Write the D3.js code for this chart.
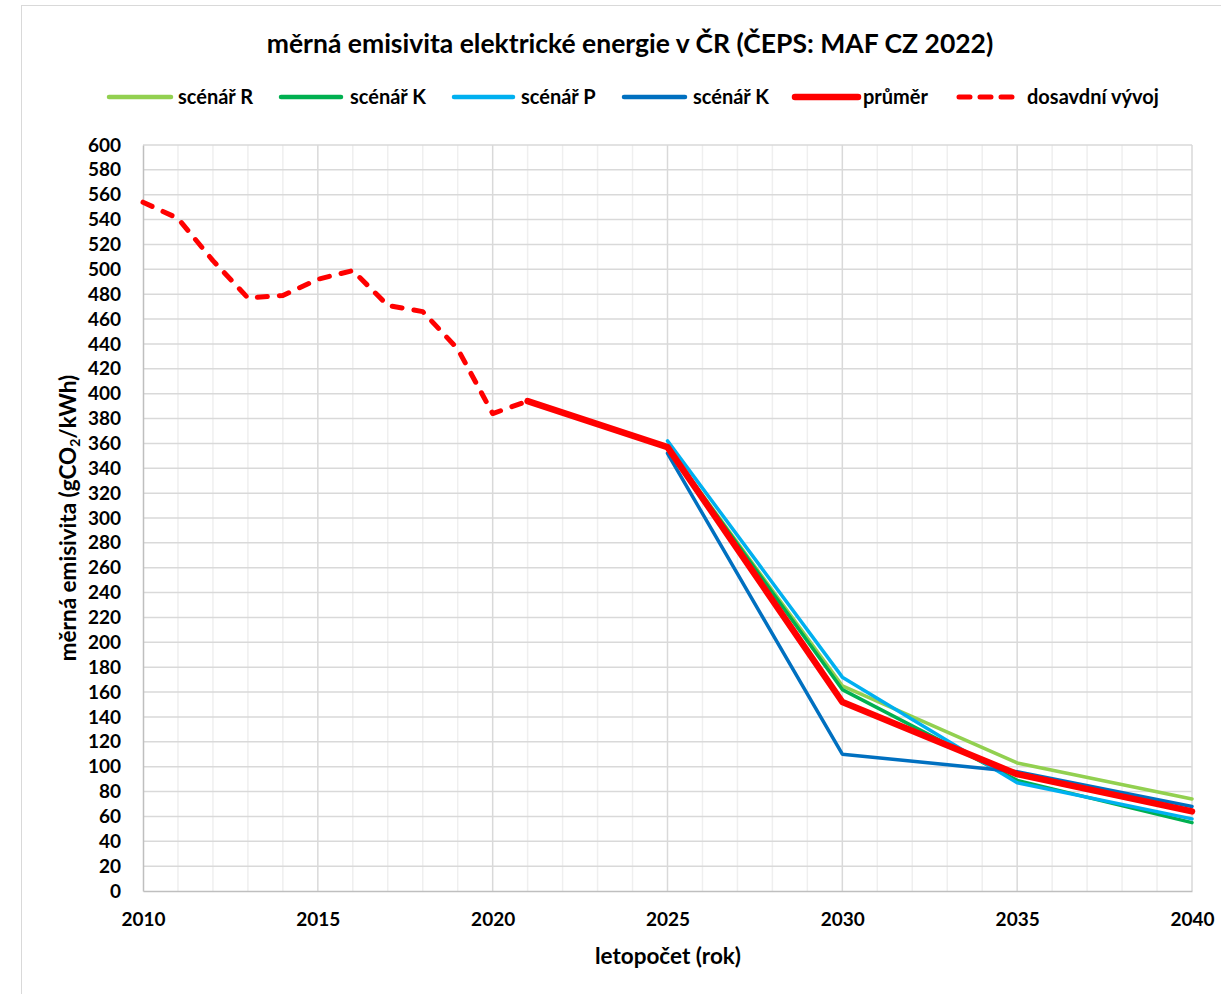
<!DOCTYPE html>
<html>
<head>
<meta charset="utf-8">
<script src="https://cdn.jsdelivr.net/npm/d3@7"></script>
<style>
  body { margin: 0; background: #fff; }
  text { font-family: Lato, "Open Sans", sans-serif; font-weight: bold; fill: #000; }
</style>
</head>
<body>
<svg id="chart" width="1221" height="994"></svg>
<script>
// historical values 2010-2021
const histYears = [2010, 2011, 2012, 2013, 2014, 2015, 2016, 2017, 2018, 2019, 2020, 2021];
const histValues = [554, 541, 507, 477, 479, 492, 499, 471, 466, 436, 384, 394];

// scenario years
const scenYears = [2025, 2030, 2035, 2040];
const scenR = [357, 165, 103, 74];
const scenK = [357, 162, 89, 55];
const scenP = [362, 172, 87, 58];
const scenK2 = [352, 110, 96, 68];
const avgYears = [2021, 2025, 2030, 2035, 2040];
const avgValues = [394, 357, 152, 94, 64];

const yTicks = d3.range(0, 601, 20);
const xTicks = [2010, 2015, 2020, 2025, 2030, 2035, 2040];

const series = [
  { name: "scénář R", years: scenYears, values: scenR, color: "#92d050", width: 3.5 },
  { name: "scénář K", years: scenYears, values: scenK, color: "#00b050", width: 3.5 },
  { name: "scénář P", years: scenYears, values: scenP, color: "#00b0f0", width: 3.5 },
  { name: "scénář K", years: scenYears, values: scenK2, color: "#0070c0", width: 3.5 },
  { name: "průměr", years: avgYears, values: avgValues, color: "#ff0000", width: 6.5 },
  { name: "dosavdní vývoj", years: histYears, values: histValues, color: "#ff0000", width: 5, dash: "10,12" }
];

const svg = d3.select("#chart");

// outer frame
svg.append("rect")
  .attr("x", 21.5).attr("y", 5.5)
  .attr("width", 1220).attr("height", 1000)
  .attr("fill", "none").attr("stroke", "#d9d9d9");

const pLeft = 143, pRight = 1192, pTop = 145, pBottom = 891;
const x = d3.scaleLinear().domain([2010, 2040]).range([pLeft, pRight]);
const y = d3.scaleLinear().domain([0, 600]).range([pBottom, pTop]);

// grid
const grid = svg.append("g");
grid.selectAll(".minor")
  .data(d3.range(2011, 2040).filter(d => d % 5 !== 0))
  .enter().append("line")
  .attr("x1", d => x(d)).attr("x2", d => x(d))
  .attr("y1", pTop).attr("y2", pBottom)
  .attr("stroke", "#efefef").attr("stroke-width", 1.5);
grid.selectAll(".hline")
  .data(yTicks.filter(d => d > 0))
  .enter().append("line")
  .attr("x1", pLeft).attr("x2", pRight)
  .attr("y1", d => y(d)).attr("y2", d => y(d))
  .attr("stroke", "#d9d9d9").attr("stroke-width", 1.5);
grid.selectAll(".major")
  .data(xTicks.filter(d => d > 2010))
  .enter().append("line")
  .attr("x1", d => x(d)).attr("x2", d => x(d))
  .attr("y1", pTop).attr("y2", pBottom)
  .attr("stroke", "#d9d9d9").attr("stroke-width", 1.5);

// axes
const yAxis = svg.append("g")
  .attr("transform", `translate(${pLeft},0)`)
  .call(d3.axisLeft(y).tickValues(yTicks).tickSize(0).tickPadding(22));
const xAxis = svg.append("g")
  .attr("transform", `translate(0,${pBottom})`)
  .call(d3.axisBottom(x).tickValues(xTicks).tickFormat(d3.format("d")).tickSize(0).tickPadding(22));
[yAxis, xAxis].forEach(a => {
  a.select(".domain").attr("stroke", "#bfbfbf").attr("stroke-width", 1.5);
  a.selectAll("text").style("font-size", "19px").style("font-family", "Lato, sans-serif").style("font-weight", "bold");
});

// lines
const line = d3.line().x(d => x(d[0])).y(d => y(d[1]));
series.forEach(s => {
  svg.append("path")
    .datum(s.years.map((yr, i) => [yr, s.values[i]]))
    .attr("d", line)
    .attr("fill", "none")
    .attr("stroke", s.color)
    .attr("stroke-width", s.width)
    .attr("stroke-linecap", "round")
    .attr("stroke-linejoin", "round")
    .attr("stroke-dasharray", s.dash || null);
});

// title
svg.append("text")
  .attr("x", 630).attr("y", 53)
  .attr("text-anchor", "middle")
  .style("font-size", "26.5px")
  .text("měrná emisivita elektrické energie v ČR (ČEPS: MAF CZ 2022)");

// legend
const legendX = [107, 279, 452, 622, 793, 957];
const legendEnd = [173, 343, 515, 687, 860, 1015];
const legendText = [178, 350, 521, 693, 863, 1027];
const leg = svg.append("g");
series.forEach((s, i) => {
  leg.append("line")
    .attr("x1", legendX[i] + 2).attr("x2", legendEnd[i] - 2)
    .attr("y1", 97).attr("y2", 97)
    .attr("stroke", s.color)
    .attr("stroke-width", s.dash ? 5 : (s.width > 5 ? 6.5 : 4.5))
    .attr("stroke-linecap", "round")
    .attr("stroke-dasharray", s.dash ? "11,10" : null);
  leg.append("text")
    .attr("x", legendText[i]).attr("y", 104)
    .style("font-size", "20px")
    .text(s.name);
});

// axis titles
svg.append("text")
  .attr("x", 668).attr("y", 964)
  .attr("text-anchor", "middle")
  .style("font-size", "22.5px")
  .text("letopočet (rok)");

const yt = svg.append("text")
  .attr("transform", "translate(76,518) rotate(-90)")
  .attr("text-anchor", "middle")
  .style("font-size", "22.5px");
yt.append("tspan").text("měrná emisivita (gCO");
yt.append("tspan").attr("baseline-shift", "-25%").style("font-size", "14px").text("2");
yt.append("tspan").text("/kWh)");
</script>
</body>
</html>
